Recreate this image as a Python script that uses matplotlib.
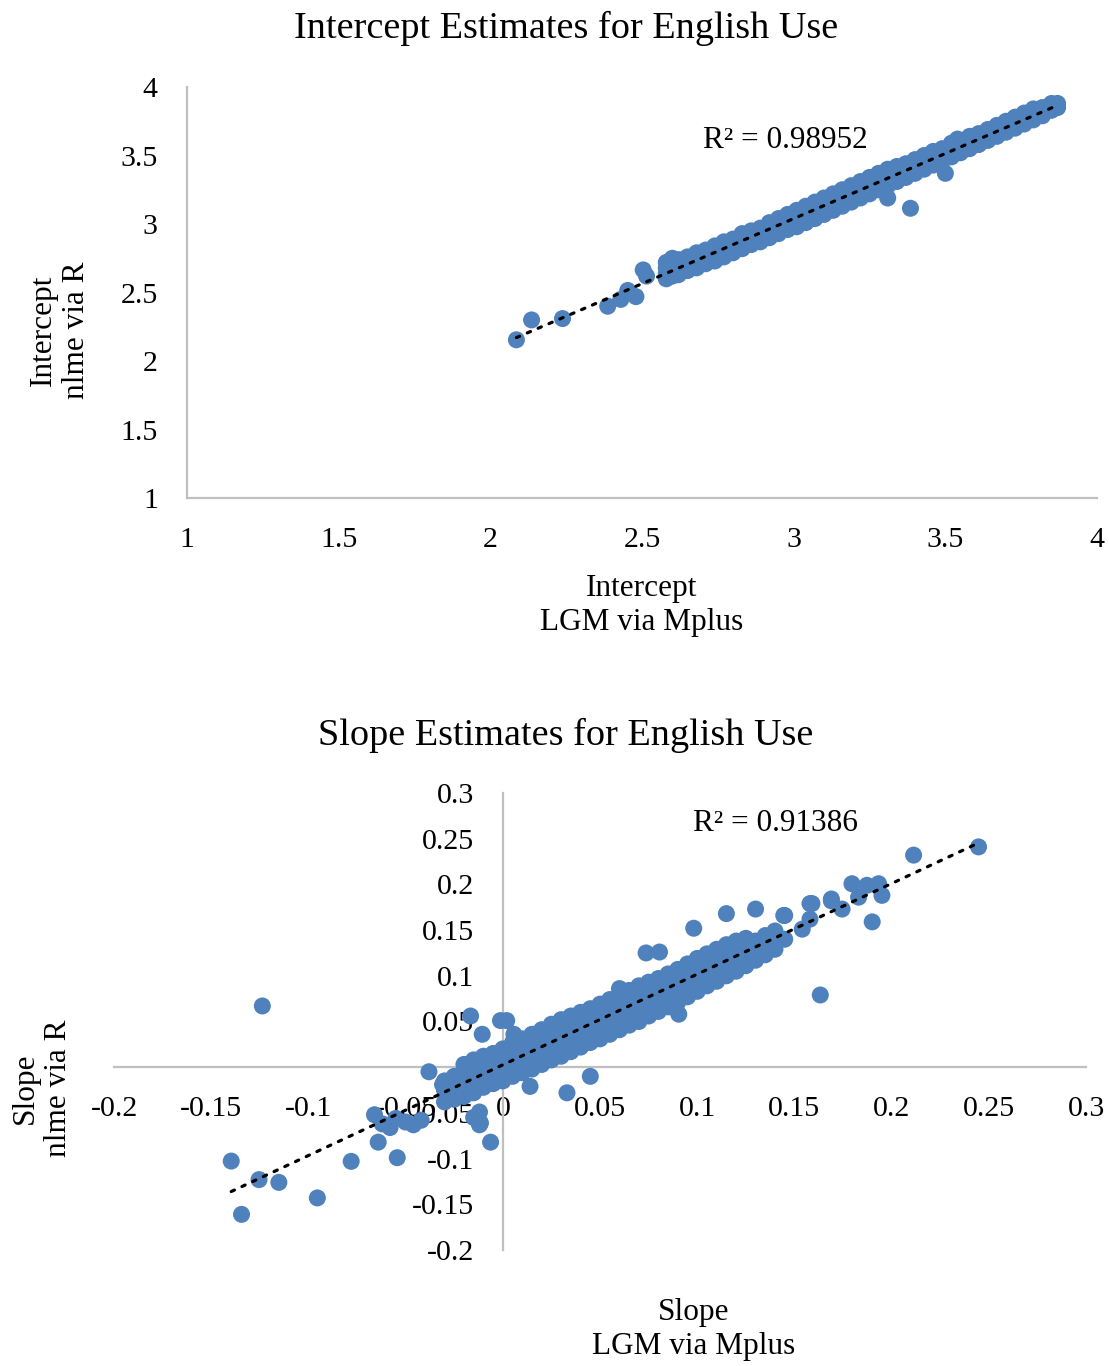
import numpy as np
import matplotlib
matplotlib.use("Agg")
import matplotlib.pyplot as plt
from matplotlib.ticker import FuncFormatter, MultipleLocator

plt.rcParams['font.family'] = ['Liberation Serif', 'DejaVu Serif']

# ---- intercept estimates (LGM via Mplus on x, nlme via R on y) ----
int_mplus = [2.086, 2.136, 2.238, 2.387, 2.43, 2.453, 2.48, 2.504, 2.515, 3.385, 3.50, 3.54,
             2.58, 2.58, 2.58, 2.58, 2.60, 2.60, 2.60, 2.60, 2.62, 2.62, 2.62, 2.62,
             2.65, 2.65, 2.65, 2.65, 2.68, 2.68, 2.68, 2.68, 2.71, 2.71, 2.71, 2.71,
             2.74, 2.74, 2.74, 2.74, 2.77, 2.77, 2.77, 2.77, 2.80, 2.80, 2.80, 2.80,
             2.83, 2.83, 2.83, 2.83, 2.86, 2.86, 2.86, 2.86, 2.89, 2.89, 2.89, 2.89,
             2.92, 2.92, 2.92, 2.92, 2.95, 2.95, 2.95, 2.95, 2.98, 2.98, 2.98, 2.98,
             3.01, 3.01, 3.01, 3.01, 3.04, 3.04, 3.04, 3.04, 3.07, 3.07, 3.07, 3.07,
             3.10, 3.10, 3.10, 3.10, 3.13, 3.13, 3.13, 3.13, 3.16, 3.16, 3.16, 3.16,
             3.19, 3.19, 3.19, 3.19, 3.22, 3.22, 3.22, 3.22, 3.25, 3.25, 3.25, 3.25,
             3.28, 3.28, 3.28, 3.28, 3.31, 3.31, 3.31, 3.31, 3.31, 3.34, 3.34, 3.34, 3.34,
             3.37, 3.37, 3.37, 3.37, 3.40, 3.40, 3.40, 3.40, 3.43, 3.43, 3.43, 3.43,
             3.46, 3.46, 3.46, 3.46, 3.49, 3.49, 3.49, 3.49, 3.52, 3.52, 3.52, 3.52,
             3.55, 3.55, 3.55, 3.55, 3.58, 3.58, 3.58, 3.58, 3.61, 3.61, 3.61, 3.61,
             3.64, 3.64, 3.64, 3.64, 3.67, 3.67, 3.67, 3.67, 3.70, 3.70, 3.70, 3.70,
             3.73, 3.73, 3.73, 3.73, 3.76, 3.76, 3.76, 3.76, 3.79, 3.79, 3.79, 3.79,
             3.82, 3.82, 3.82, 3.85, 3.85, 3.85, 3.87, 3.87]
int_nlme = [2.155, 2.300, 2.310, 2.400, 2.45, 2.515, 2.47, 2.665, 2.62, 3.115, 3.37, 3.62,
            2.60, 2.64, 2.68, 2.72, 2.62, 2.66, 2.71, 2.75, 2.63, 2.67, 2.71, 2.74,
            2.66, 2.70, 2.73, 2.76, 2.68, 2.72, 2.75, 2.79, 2.71, 2.75, 2.78, 2.81,
            2.73, 2.77, 2.81, 2.84, 2.76, 2.80, 2.84, 2.87, 2.79, 2.83, 2.86, 2.89,
            2.82, 2.86, 2.90, 2.93, 2.85, 2.89, 2.92, 2.95, 2.87, 2.91, 2.95, 2.97,
            2.90, 2.94, 2.98, 3.01, 2.93, 2.97, 3.01, 3.04, 2.96, 3.00, 3.04, 3.07,
            2.98, 3.03, 3.07, 3.10, 3.01, 3.06, 3.10, 3.13, 3.04, 3.09, 3.13, 3.16,
            3.07, 3.12, 3.16, 3.19, 3.10, 3.15, 3.19, 3.22, 3.13, 3.17, 3.21, 3.25,
            3.16, 3.20, 3.24, 3.28, 3.19, 3.23, 3.27, 3.31, 3.22, 3.26, 3.30, 3.34,
            3.25, 3.29, 3.33, 3.37, 3.19, 3.28, 3.32, 3.36, 3.40, 3.31, 3.35, 3.39, 3.42,
            3.34, 3.38, 3.42, 3.44, 3.37, 3.41, 3.44, 3.47, 3.40, 3.44, 3.47, 3.50,
            3.43, 3.47, 3.50, 3.53, 3.46, 3.50, 3.53, 3.55, 3.49, 3.53, 3.56, 3.59,
            3.52, 3.55, 3.58, 3.61, 3.55, 3.58, 3.61, 3.64, 3.58, 3.61, 3.64, 3.66,
            3.61, 3.64, 3.67, 3.69, 3.64, 3.67, 3.70, 3.72, 3.67, 3.70, 3.73, 3.75,
            3.70, 3.73, 3.76, 3.78, 3.73, 3.76, 3.79, 3.81, 3.76, 3.79, 3.82, 3.84,
            3.79, 3.82, 3.85, 3.83, 3.86, 3.88, 3.85, 3.88]

# ---- slope estimates ----
slope_mplus = [-0.1237, -0.1397, -0.1344, -0.1254, -0.1152, -0.0954, -0.078, -0.0641, -0.0543,
               -0.066, -0.062, -0.055, -0.050, -0.046, -0.042, -0.058,
               -0.038, -0.031, -0.0166, -0.0106, -0.0012, 0.002, 0.0057,
               -0.0063, -0.0115, -0.012, -0.015, -0.012, 0.014, 0.033, 0.045,
               0.0982, 0.115, 0.130, 0.0737, 0.0806, 0.1633, 0.0905, 0.1445, 0.158, 0.169,
               0.2447, 0.2113, 0.190, 0.195, 0.1933, 0.1873, 0.1796, 0.183, 0.1745,
               0.169, 0.159, 0.158, 0.154, 0.145, 0.145,
               -0.030, -0.030, -0.030, -0.025, -0.025, -0.025,
               -0.020, -0.020, -0.020, -0.020, -0.015, -0.015, -0.015, -0.015,
               -0.010, -0.010, -0.010, -0.010, -0.005, -0.005, -0.005, -0.005,
               0.000, 0.000, 0.000, 0.000, 0.005, 0.005, 0.005, 0.005,
               0.010, 0.010, 0.010, 0.010, 0.015, 0.015, 0.015, 0.015,
               0.020, 0.020, 0.020, 0.020, 0.025, 0.025, 0.025, 0.025,
               0.030, 0.030, 0.030, 0.030, 0.035, 0.035, 0.035, 0.035,
               0.040, 0.040, 0.040, 0.040, 0.045, 0.045, 0.045, 0.045,
               0.050, 0.050, 0.050, 0.050, 0.055, 0.055, 0.055, 0.055,
               0.060, 0.060, 0.060, 0.060, 0.060, 0.065, 0.065, 0.065, 0.065,
               0.070, 0.070, 0.070, 0.070, 0.075, 0.075, 0.075, 0.075,
               0.080, 0.080, 0.080, 0.080, 0.085, 0.085, 0.085, 0.085,
               0.090, 0.090, 0.090, 0.090, 0.095, 0.095, 0.095, 0.095,
               0.100, 0.100, 0.100, 0.100, 0.105, 0.105, 0.105, 0.105,
               0.110, 0.110, 0.110, 0.110, 0.115, 0.115, 0.115, 0.115,
               0.120, 0.120, 0.120, 0.120, 0.125, 0.125, 0.125, 0.125,
               0.130, 0.130, 0.130, 0.135, 0.135, 0.135, 0.140, 0.140, 0.140]
slope_nlme = [0.067, -0.1027, -0.161, -0.123, -0.126, -0.143, -0.103, -0.082, -0.099,
              -0.052, -0.062, -0.056, -0.060, -0.063, -0.058, -0.066,
              -0.005, -0.019, 0.056, 0.036, 0.051, 0.051, 0.036,
              -0.082, -0.061, -0.049, -0.055, -0.063, -0.021, -0.028, -0.010,
              0.152, 0.168, 0.173, 0.125, 0.126, 0.079, 0.058, 0.166, 0.179, 0.184,
              0.241, 0.232, 0.159, 0.188, 0.2007, 0.199, 0.2007, 0.186, 0.173,
              0.182, 0.179, 0.162, 0.151, 0.166, 0.140,
              -0.038, -0.025, -0.015, -0.035, -0.022, -0.010,
              -0.032, -0.018, -0.005, 0.003, -0.028, -0.014, 0.000, 0.008,
              -0.022, -0.010, 0.002, 0.012, -0.018, -0.005, 0.006, 0.015,
              -0.015, -0.002, 0.010, 0.020, -0.010, 0.003, 0.015, 0.027,
              -0.006, 0.007, 0.019, 0.031, -0.002, 0.011, 0.024, 0.036,
              0.003, 0.016, 0.029, 0.041, 0.008, 0.021, 0.034, 0.047,
              0.012, 0.025, 0.038, 0.052, 0.017, 0.030, 0.043, 0.056,
              0.022, 0.035, 0.048, 0.060, 0.027, 0.040, 0.053, 0.064,
              0.031, 0.044, 0.057, 0.069, 0.036, 0.049, 0.062, 0.074,
              0.041, 0.054, 0.067, 0.080, 0.086, 0.046, 0.059, 0.072, 0.084,
              0.050, 0.063, 0.076, 0.089, 0.056, 0.068, 0.081, 0.093,
              0.061, 0.073, 0.086, 0.097, 0.066, 0.078, 0.091, 0.102,
              0.071, 0.083, 0.096, 0.107, 0.077, 0.089, 0.101, 0.113,
              0.083, 0.095, 0.107, 0.119, 0.089, 0.100, 0.112, 0.124,
              0.094, 0.106, 0.118, 0.129, 0.100, 0.111, 0.123, 0.134,
              0.105, 0.116, 0.128, 0.138, 0.111, 0.122, 0.133, 0.141,
              0.117, 0.128, 0.138, 0.123, 0.134, 0.144, 0.129, 0.140, 0.149]

int_r2 = "R\u00b2 = 0.98952"
slope_r2 = "R\u00b2 = 0.91386"

blue = "#4F81BD"
grey = "#BFBFBF"
fs = 21.5
msize = 150

fmt = FuncFormatter(lambda v, p: "%g" % round(v, 3))


def trend(ax, x, y):
    # linear least squares trendline, drawn over the data range like Excel does
    x = np.asarray(x)
    y = np.asarray(y)
    b, a = np.polyfit(x, y, 1)
    xs = np.array([x.min(), x.max()])
    ax.plot(xs, a + b * xs, color="black", lw=2.3, linestyle=(0, (1.1, 2.6)),
            dash_capstyle="round", zorder=4)


fig = plt.figure(figsize=(11.09, 13.66), dpi=100)

# top chart
ax1 = fig.add_axes([0.1686, 0.6354, 0.8206, 0.3009])
ax1.scatter(int_mplus, int_nlme, s=msize, color=blue, edgecolors="none", zorder=3)
trend(ax1, int_mplus, int_nlme)
ax1.set_xlim(1, 4)
ax1.set_ylim(1, 4)
ax1.xaxis.set_major_locator(MultipleLocator(0.5))
ax1.yaxis.set_major_locator(MultipleLocator(0.5))
ax1.xaxis.set_major_formatter(fmt)
ax1.yaxis.set_major_formatter(fmt)
for s in ["top", "right"]:
    ax1.spines[s].set_visible(False)
for s in ["left", "bottom"]:
    ax1.spines[s].set_color(grey)
    ax1.spines[s].set_linewidth(1.6)
ax1.tick_params(length=0, labelsize=fs, pad=21)
ax1.text(0.658, 0.871, int_r2, transform=ax1.transAxes, ha="center", va="center", fontsize=22.5)

# bottom chart, axes crossing at zero
ax2 = fig.add_axes([0.1028, 0.0849, 0.8765, 0.3346])
ax2.scatter(slope_mplus, slope_nlme, s=msize, color=blue, edgecolors="none", zorder=3)
trend(ax2, slope_mplus, slope_nlme)
ax2.set_xlim(-0.2, 0.3)
ax2.set_ylim(-0.2, 0.3)
ax2.xaxis.set_major_locator(MultipleLocator(0.05))
ax2.yaxis.set_major_locator(MultipleLocator(0.05))
ax2.xaxis.set_major_formatter(fmt)
ax2.yaxis.set_major_formatter(fmt)
for s in ["top", "right"]:
    ax2.spines[s].set_visible(False)
for s in ["left", "bottom"]:
    ax2.spines[s].set_position(("data", 0))
    ax2.spines[s].set_color(grey)
    ax2.spines[s].set_linewidth(1.6)
ax2.tick_params(length=0, labelsize=fs, pad=21)
ax2.text(0.680, 0.934, slope_r2, transform=ax2.transAxes, ha="center", va="center", fontsize=22.5)

# titles and axis labels
fig.text(0.5104, 0.9795, "Intercept Estimates for English Use", ha="center", va="center", fontsize=27.5)
fig.text(0.5789, 0.5567, "Intercept\nLGM via Mplus", ha="center", va="center",
         multialignment="center", fontsize=22.5)
fig.text(0.0541, 0.7584, "Intercept\nnlme via R", ha="center", va="center", rotation=90,
         multialignment="center", fontsize=22.5)

fig.text(0.5104, 0.4615, "Slope Estimates for English Use", ha="center", va="center", fontsize=27.5)
fig.text(0.6258, 0.0267, "Slope\nLGM via Mplus", ha="center", va="center",
         multialignment="center", fontsize=22.5)
fig.text(0.0379, 0.2035, "Slope\nnlme via R", ha="center", va="center", rotation=90,
         multialignment="center", fontsize=22.5)

fig.savefig("out.png", dpi=100, facecolor="white")
